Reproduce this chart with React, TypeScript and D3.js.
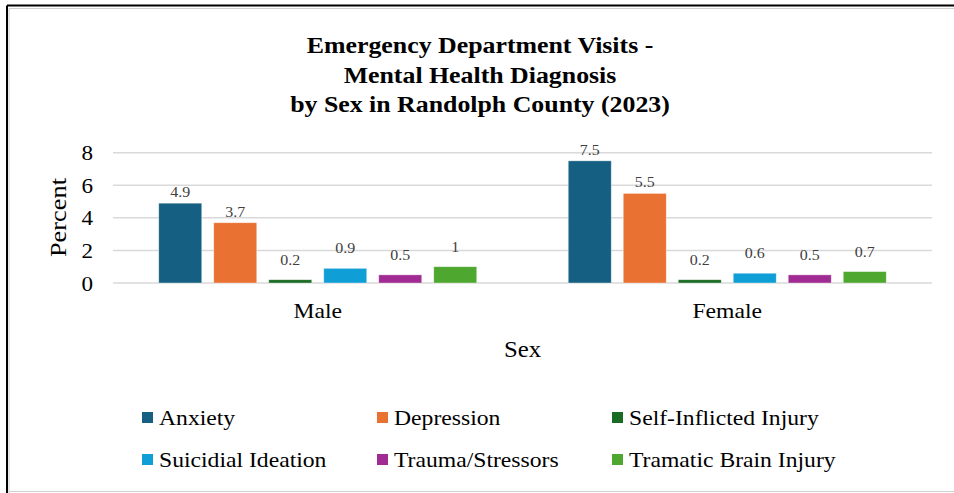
import React from "react";
import * as d3 from "d3";

const sexes = ["Male", "Female"];
const seriesNames = [
  "Anxiety",
  "Depression",
  "Self-Inflicted Injury",
  "Suicidial Ideation",
  "Trauma/Stressors",
  "Tramatic Brain Injury",
];
const maleValues = [4.9, 3.7, 0.2, 0.9, 0.5, 1];
const femaleValues = [7.5, 5.5, 0.2, 0.6, 0.5, 0.7];
const seriesColors = ["#156082", "#E97132", "#196B24", "#0F9ED5", "#A02B93", "#4EA72E"];
const yTicks = [0, 2, 4, 6, 8];
const titleLines = [
  "Emergency Department Visits -",
  "Mental Health Diagnosis",
  "by Sex in Randolph County (2023)",
];

const W = 954;
const H = 493;
const FONT = "'Liberation Serif', 'Times New Roman', serif";
const SX = 1.1;

function T(props: {
  x: number;
  y: number;
  size: number;
  anchor?: string;
  weight?: string;
  fill?: string;
  rotate?: number;
  children: React.ReactNode;
}) {
  const { x, y, size, anchor = "start", weight = "normal", fill = "#000", rotate = 0 } = props;
  return (
    <text
      transform={`translate(${x},${y}) rotate(${rotate}) scale(${SX},1)`}
      fontSize={size}
      textAnchor={anchor}
      fontWeight={weight}
      fill={fill}
      fontFamily={FONT}
    >
      {props.children}
    </text>
  );
}

export default function App() {
  const plotLeft = 113;
  const plotRight = 932;
  const y = d3.scaleLinear().domain([0, 8]).range([283, 152.7]);
  const x0 = d3.scaleBand<string>().domain(sexes).range([plotLeft, plotRight]);
  const groupWidth = 318;
  const x1 = d3
    .scaleBand<string>()
    .domain(seriesNames)
    .range([0, groupWidth])
    .paddingInner(12 / 55);
  const groupOffset = (x0.bandwidth() - groupWidth) / 2;
  const valuesBySex: Record<string, number[]> = { Male: maleValues, Female: femaleValues };

  const legendCols = [142, 377, 612];
  const legendRows = [412, 454];

  return (
    <svg
      width={W}
      height={H}
      style={{ position: "absolute", left: 0, top: 0 }}
      viewBox={`0 0 ${W} ${H}`}
    >
      <rect x={0} y={0} width={W} height={H} fill="#fff" />
      {/* border */}
      <line x1={9} y1={8.5} x2={W} y2={8.5} stroke="#d0d0d0" strokeWidth={1} />
      <line x1={9} y1={8.5} x2={9} y2={H} stroke="#d0d0d0" strokeWidth={1} />
      <line x1={7} y1={5.5} x2={W} y2={5.5} stroke="#000" strokeWidth={2} />
      <line x1={7} y1={5.5} x2={7} y2={H} stroke="#000" strokeWidth={2} />
      <line x1={9} y1={491.5} x2={W} y2={491.5} stroke="#d0d0d0" strokeWidth={1} />

      {/* title */}
      {titleLines.map((t, i) => (
        <T key={t} x={480} y={53 + i * 29.5} size={23.5} anchor="middle" weight="bold">
          {t}
        </T>
      ))}

      {/* gridlines */}
      {yTicks.map((v) => (
        <line
          key={v}
          x1={plotLeft}
          x2={plotRight}
          y1={y(v)}
          y2={y(v)}
          stroke="#d9d9d9"
          strokeWidth={1.5}
        />
      ))}
      {yTicks.map((v) => (
        <T key={v} x={93} y={y(v) + 7.5} size={21} anchor="end">
          {v}
        </T>
      ))}
      <T x={66} y={217.5} size={24} anchor="middle" rotate={-90}>
        Percent
      </T>

      {/* bars */}
      {sexes.map((s) => (
        <g key={s} transform={`translate(${(x0(s) as number) + groupOffset},0)`}>
          {valuesBySex[s].map((v, i) => {
            const name = seriesNames[i];
            const bx = x1(name) as number;
            const gap = v >= 2 ? 6 : 15;
            return (
              <g key={name}>
                <rect
                  x={bx}
                  y={y(v)}
                  width={x1.bandwidth()}
                  height={y(0) - y(v)}
                  fill={seriesColors[i]}
                  stroke="#ffffff"
                  strokeOpacity={0.5}
                  strokeWidth={0.75}
                />
                <T
                  x={bx + x1.bandwidth() / 2}
                  y={y(v) - gap}
                  size={14.5}
                  anchor="middle"
                  fill="#404040"
                >
                  {String(v)}
                </T>
              </g>
            );
          })}
        </g>
      ))}

      {/* category labels */}
      {sexes.map((s) => (
        <T key={s} x={(x0(s) as number) + x0.bandwidth() / 2} y={318} size={21.5} anchor="middle">
          {s}
        </T>
      ))}
      <T x={(plotLeft + plotRight) / 2} y={357} size={22.5} anchor="middle">
        Sex
      </T>

      {/* legend */}
      {seriesNames.map((name, i) => {
        const cx = legendCols[i % 3];
        const ry = legendRows[Math.floor(i / 3)];
        return (
          <g key={name}>
            <rect x={cx} y={ry} width={11} height={11} fill={seriesColors[i]} />
            <T x={cx + 17} y={ry + 13} size={21.5}>
              {name}
            </T>
          </g>
        );
      })}
    </svg>
  );
}
